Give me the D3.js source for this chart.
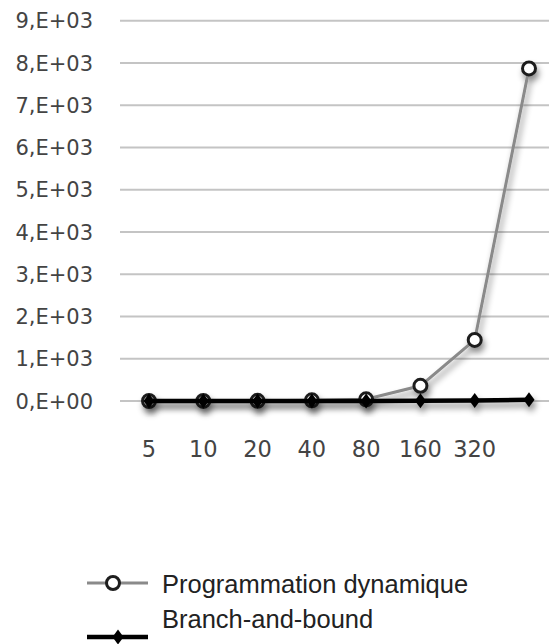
<!DOCTYPE html>
<html>
<head>
<meta charset="utf-8">
<script src="https://cdn.jsdelivr.net/npm/d3@7"></script>
<style>
  html, body { margin: 0; padding: 0; background: #fff; }
  svg { display: block; }
</style>
</head>
<body>
<svg id="chart" width="549" height="644"></svg>
<script>
// ---- data ----
const categories = ["5", "10", "20", "40", "80", "160", "320", ""];
const programmationDynamique = [0, 1, 4, 15, 40, 360, 1445, 7870];
const branchAndBound = [0, 0, 0, 1, 2, 5, 12, 30];
const yTicks = [0, 1000, 2000, 3000, 4000, 5000, 6000, 7000, 8000, 9000];
const seriesNames = ["Programmation dynamique", "Branch-and-bound"];

// ---- layout ----
const svg = d3.select("#chart");
const W = 549;
const x = d3.scalePoint().domain(d3.range(categories.length)).range([149, 529]);
const y = d3.scaleLinear().domain([0, 9000]).range([401, 20.7]);

function sci(v) {
  if (v === 0) return "0,E+00";
  const e = Math.floor(Math.log10(v));
  const m = Math.round(v / Math.pow(10, e));
  return m + ",E+" + String(e).padStart(2, "0");
}

const defs = svg.append("defs");
const f = defs.append("filter").attr("id", "sh")
  .attr("x", "-50%").attr("y", "-50%").attr("width", "200%").attr("height", "200%");
f.append("feDropShadow").attr("dx", 2).attr("dy", 5).attr("stdDeviation", 3)
  .attr("flood-color", "#000").attr("flood-opacity", 0.45);

svg.append("rect").attr("width", W).attr("height", 644).attr("fill", "#fff");

// gridlines
svg.append("g").selectAll("line").data(yTicks).join("line")
  .attr("x1", 120).attr("x2", W)
  .attr("y1", d => y(d)).attr("y2", d => y(d))
  .attr("stroke", "#c4c4c4").attr("stroke-width", 2);

// y labels
svg.append("g").selectAll("text").data(yTicks).join("text")
  .attr("x", 93).attr("y", d => y(d)).attr("dy", "0.36em")
  .attr("text-anchor", "end")
  .attr("font-family", "DejaVu Sans, sans-serif").attr("font-size", 21)
  .attr("fill", "#444")
  .text(d => sci(d));

// x labels
svg.append("g").selectAll("text").data(categories).join("text")
  .attr("x", (d, i) => x(i)).attr("y", 457)
  .attr("text-anchor", "middle")
  .attr("font-family", "DejaVu Sans, sans-serif").attr("font-size", 22.5)
  .attr("fill", "#444")
  .text(d => d);

const line = d3.line().x((d, i) => x(i)).y(d => y(d));

// Programmation dynamique
const gPD = svg.append("g").attr("filter", "url(#sh)");
gPD.append("path").datum(programmationDynamique)
  .attr("d", line).attr("fill", "none")
  .attr("stroke", "#8a8a8a").attr("stroke-width", 3);
gPD.selectAll("circle").data(programmationDynamique).join("circle")
  .attr("cx", (d, i) => x(i)).attr("cy", d => y(d)).attr("r", 6.5)
  .attr("fill", "#fff").attr("stroke", "#1e1e1e").attr("stroke-width", 3);

// Branch-and-bound
const diamond = d3.symbol().type(d3.symbolDiamond).size(80);
const gBB = svg.append("g").attr("filter", "url(#sh)");
gBB.append("path").datum(branchAndBound)
  .attr("d", line).attr("fill", "none")
  .attr("stroke", "#000").attr("stroke-width", 4.5);
gBB.selectAll("path.m").data(branchAndBound).join("path").attr("class", "m")
  .attr("transform", (d, i) => `translate(${x(i)},${y(d)}) scale(1.15,0.9)`)
  .attr("d", diamond).attr("fill", "#000");

// legend
const lg = svg.append("g");
lg.append("line").attr("x1", 87).attr("x2", 148).attr("y1", 583).attr("y2", 583)
  .attr("stroke", "#8a8a8a").attr("stroke-width", 3);
lg.append("circle").attr("cx", 113).attr("cy", 583).attr("r", 6.5)
  .attr("fill", "#fff").attr("stroke", "#1e1e1e").attr("stroke-width", 3);
lg.append("text").attr("x", 162).attr("y", 593)
  .attr("font-family", "Liberation Sans, Arial, sans-serif").attr("font-size", 25.5)
  .attr("fill", "#222").text(seriesNames[0]);

lg.append("line").attr("x1", 87).attr("x2", 148).attr("y1", 637).attr("y2", 637)
  .attr("stroke", "#000").attr("stroke-width", 4.5);
lg.append("path").attr("transform", "translate(118,637) scale(1.15,0.9)").attr("d", diamond).attr("fill", "#000");
lg.append("text").attr("x", 162).attr("y", 628)
  .attr("font-family", "Liberation Sans, Arial, sans-serif").attr("font-size", 25.5)
  .attr("fill", "#222").text(seriesNames[1]);
</script>
</body>
</html>
